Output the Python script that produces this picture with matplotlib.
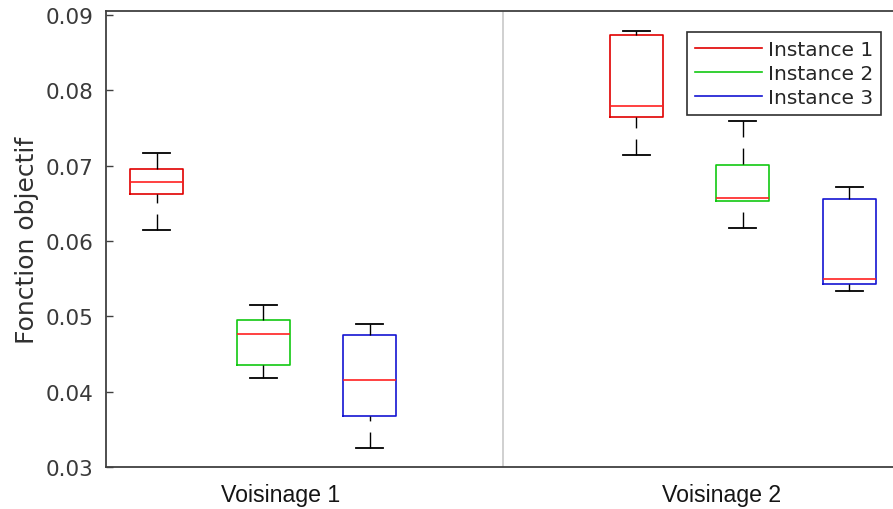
import matplotlib.pyplot as plt
from matplotlib.lines import Line2D

# valeurs de la fonction objectif (min, q1, mediane, q3, max)
groupes = ['Voisinage 1', 'Voisinage 2']
instances = ['Instance 1', 'Instance 2', 'Instance 3']
couleurs = ['#e00000', '#12c812', '#1414d2']

v1_min = [0.0615, 0.04184, 0.03252]
v1_q1 = [0.06625, 0.04361, 0.03684]
v1_med = [0.06784, 0.04768, 0.04158]
v1_q3 = [0.0696, 0.04954, 0.04755]
v1_max = [0.07165, 0.05153, 0.04905]

v2_min = [0.07146, 0.0617, 0.05334]
v2_q1 = [0.07642, 0.06532, 0.05427]
v2_med = [0.07796, 0.06576, 0.05493]
v2_q3 = [0.0873, 0.07013, 0.06554]
v2_max = [0.0879, 0.07597, 0.06714]

positions = [1, 2, 3, 5.5, 6.5, 7.5]

stats = []
for mn, q1, med, q3, mx in [(v1_min, v1_q1, v1_med, v1_q3, v1_max),
                            (v2_min, v2_q1, v2_med, v2_q3, v2_max)]:
    for i in range(3):
        stats.append(dict(whislo=mn[i], q1=q1[i], med=med[i], q3=q3[i],
                          whishi=mx[i], fliers=[]))

fig = plt.figure(figsize=(8.93, 5.10), dpi=100)
ax = fig.add_axes([106 / 893, 1 - 468.3 / 510, 794 / 893, 456.3 / 510])

for k, (st, pos) in enumerate(zip(stats, positions)):
    c = couleurs[k % 3]
    art = ax.bxp([st], positions=[pos], widths=0.5, capwidths=0.25,
                 showfliers=False,
                 boxprops=dict(color=c, linewidth=1.2),
                 medianprops=dict(color='#ff2020', linewidth=1.2),
                 whiskerprops=dict(color='black', linewidth=1.0, linestyle=(0, (11.5, 8))),
                 capprops=dict(color='black', linewidth=1.3))
    # tirets commencant a la moustache plutot qu'a la boite
    for w in art['whiskers']:
        x, y = w.get_data()
        w.set_data(x[::-1], y[::-1])

# separation entre les deux voisinages
ax.axvline(4.25, color='#c8c8c8', linewidth=1.2, zorder=0)

ax.set_xlim(0.525, 7.975)
ax.set_ylim(0.03, 0.0905)
ax.set_yticks([0.03, 0.04, 0.05, 0.06, 0.07, 0.08, 0.09])
ax.set_yticklabels(['0.03', '0.04', '0.05', '0.06', '0.07', '0.08', '0.09'])
ax.set_xticks([2.166, 6.30])
ax.set_xticklabels(groupes, family='Liberation Sans', fontsize=16.7, color='#151515')
ax.tick_params(axis='x', length=0, pad=11)
ax.tick_params(axis='y', direction='in', length=5, width=1, pad=9,
               labelsize=15.5, labelcolor='#3a3a3a', color='#404040')
ax.set_ylabel('Fonction objectif', fontsize=18, color='#303030', labelpad=5)

for s in ax.spines.values():
    s.set_color('#404040')
    s.set_linewidth(1.3)

handles = [Line2D([], [], color=c, linewidth=1.2) for c in couleurs]
leg = ax.legend(handles, instances, loc='upper left', bbox_to_anchor=(581 / 794, 1 - 21.3 / 456.3),
                fontsize=14.5, handlelength=3.3, handletextpad=0.3, labelspacing=0.25,
                borderpad=0.4, borderaxespad=0, fancybox=False, framealpha=1)
leg.get_frame().set_edgecolor('#303030')
leg.get_frame().set_linewidth(1.2)
for t in leg.get_texts():
    t.set_color('#262626')

fig.savefig('out.png', dpi=100)
